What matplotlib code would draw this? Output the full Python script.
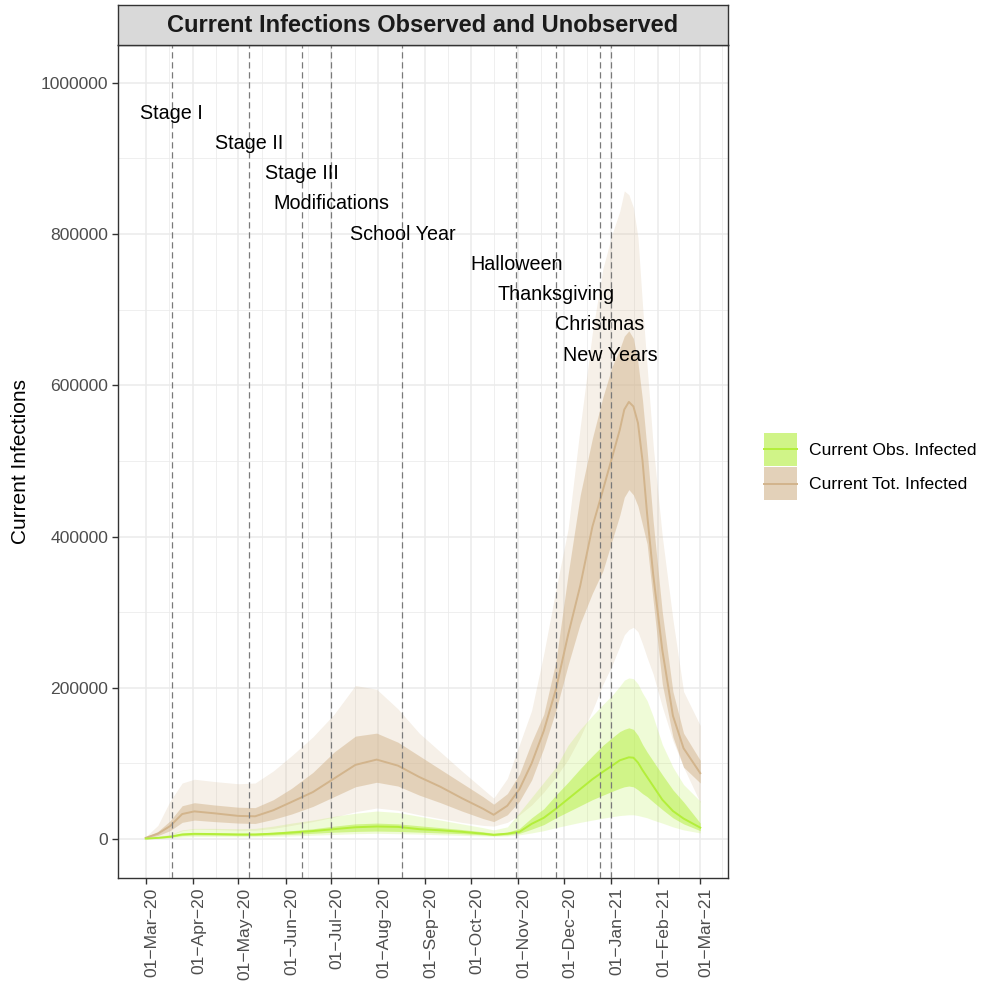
import matplotlib
matplotlib.use("Agg")
import matplotlib.pyplot as plt
import matplotlib.dates as mdates
import matplotlib.transforms as mtransforms
from matplotlib.patches import Patch
from matplotlib.lines import Line2D
from matplotlib.legend_handler import HandlerTuple, HandlerLine2D
from matplotlib.ticker import FuncFormatter
import pandas as pd

plt.rcParams['font.family'] = ['Liberation Sans', 'DejaVu Sans']

# ---- data -------------------------------------------------------------
dates = pd.to_datetime([
    "2020-03-01", "2020-03-09", "2020-03-17", "2020-03-25", "2020-04-02",
    "2020-04-15", "2020-05-01", "2020-05-12", "2020-05-24", "2020-06-05",
    "2020-06-19", "2020-07-03", "2020-07-17", "2020-07-31", "2020-08-14",
    "2020-08-28", "2020-09-11", "2020-09-25", "2020-10-09", "2020-10-16",
    "2020-10-25", "2020-11-02", "2020-11-10", "2020-11-18", "2020-11-26",
    "2020-12-04", "2020-12-12", "2020-12-20", "2020-12-27", "2021-01-02",
    "2021-01-07", "2021-01-10", "2021-01-13", "2021-01-16", "2021-01-19",
    "2021-01-22", "2021-01-25", "2021-01-29", "2021-02-04", "2021-02-11",
    "2021-02-18", "2021-03-01",
])

# Total (observed + unobserved) current infections: median, 50% and 95% bands
tot_mid = [1500, 7000, 17000, 33000, 36500, 34000, 30500, 30000, 38000, 49000,
           62000, 80000, 98000, 105000, 97000, 82000, 69000, 54000, 40000, 32000,
           44000, 66000, 100000, 143000, 198000, 270000, 335000, 413000, 462000, 505000,
           541000, 568000, 578000, 572000, 550000, 500000, 430000, 350000, 250000, 163000,
           120000, 87000]
tot_lo50 = [800, 4500, 11000, 22000, 25000, 23000, 21000, 20500, 26000, 33000,
            43000, 56000, 69000, 75000, 70000, 58000, 48000, 37000, 27000, 23000,
            32000, 50000, 78000, 120000, 170000, 230000, 285000, 325000, 355000, 395000,
            428000, 452000, 462000, 455000, 440000, 415000, 390000, 315000, 205000, 135000,
            95000, 74000]
tot_hi50 = [2500, 10000, 24000, 44000, 48000, 45000, 42000, 41500, 52000, 67000,
            88000, 115000, 136000, 140000, 128000, 110000, 92000, 74000, 56000, 46000,
            60000, 86000, 128000, 165000, 235000, 350000, 455000, 530000, 585000, 625000,
            648000, 665000, 672000, 662000, 630000, 580000, 515000, 420000, 300000, 195000,
            140000, 104000]
tot_lo95 = [300, 2000, 5000, 11000, 13000, 12500, 11500, 11500, 14000, 18000,
            23000, 29000, 36000, 41000, 38000, 32000, 27000, 22000, 18000, 17000,
            22000, 32000, 45000, 62000, 82000, 105000, 135000, 170000, 205000, 230000,
            255000, 270000, 277000, 280000, 274000, 258000, 240000, 218000, 175000, 130000,
            95000, 48000]
tot_hi95 = [3000, 18000, 50000, 74000, 79000, 76000, 73000, 74000, 90000, 110000,
            135000, 165000, 203000, 198000, 172000, 140000, 115000, 90000, 66000, 54000,
            80000, 125000, 170000, 245000, 330000, 410000, 545000, 670000, 755000, 800000,
            830000, 857000, 852000, 835000, 795000, 705000, 625000, 520000, 400000, 290000,
            195000, 150000]

# Observed current infections: median, 50% and 95% bands
obs_mid = [500, 1500, 3000, 6000, 6800, 6500, 6000, 6000, 7000, 8500,
           10500, 13000, 15500, 16500, 16000, 13000, 11500, 9500, 7000, 5500,
           7000, 9500, 20000, 28000, 40000, 53000, 66000, 79000, 89000, 97000,
           104000, 106000, 108000, 107500, 101000, 91000, 82000, 70000, 52000, 37000,
           27000, 15000]
obs_lo50 = [300, 1000, 2200, 4500, 5200, 5000, 4500, 4500, 5300, 6200,
            7500, 9000, 10000, 10500, 10000, 9000, 8000, 7000, 5500, 4500,
            5500, 7500, 13000, 19000, 28000, 36000, 44000, 52000, 58000, 63000,
            67000, 69000, 70000, 69000, 65000, 60000, 56000, 49000, 39000, 28000,
            20000, 11000]
obs_hi50 = [700, 2000, 4000, 7500, 8500, 8000, 7500, 7500, 9000, 11000,
            13500, 17000, 20000, 21000, 20000, 17500, 15000, 12500, 9500, 7500,
            9000, 14000, 28000, 40000, 58000, 75000, 93000, 110000, 124000, 134000,
            142000, 145000, 147000, 145000, 137000, 125000, 115000, 103000, 85000, 65000,
            49000, 21000]
obs_lo95 = [100, 500, 1200, 2500, 3200, 3200, 3000, 3000, 3500, 4000,
            5000, 6000, 7000, 7500, 7000, 6500, 5500, 4800, 4000, 3500,
            4000, 5500, 8000, 11000, 15000, 18500, 22000, 25000, 27500, 29500,
            31000, 31500, 32000, 32000, 31000, 29500, 28000, 25000, 21000, 16000,
            12000, 8000]
obs_hi95 = [1000, 3000, 6000, 12000, 14000, 14000, 13500, 14000, 17000, 21000,
            25000, 30000, 34000, 37000, 35000, 30000, 25000, 20000, 15000, 12000,
            16000, 35000, 55000, 75000, 95000, 124000, 145000, 163000, 178000, 190000,
            202000, 210000, 213000, 212000, 205000, 193000, 183000, 162000, 125000, 95000,
            72000, 50000]

# Policy / holiday events
event_names = ["Stage I", "Stage II", "Stage III", "Modifications", "School Year",
               "Halloween", "Thanksgiving", "Christmas", "New Years"]
event_dates = pd.to_datetime(["2020-03-18", "2020-05-08", "2020-06-12", "2020-07-01",
                              "2020-08-17", "2020-10-31", "2020-11-26", "2020-12-25",
                              "2021-01-01"])
event_label_y = [960000, 920000, 880000, 840000, 800000, 760000, 720000, 680000, 640000]

series_labels = ["Current Obs. Infected", "Current Tot. Infected"]
y_ticks = [0, 200000, 400000, 600000, 800000, 1000000]
y_minor = [100000, 300000, 500000, 700000, 900000]
tick_dates = pd.date_range("2020-03-01", "2021-03-01", freq="MS")

# ---- styling ----------------------------------------------------------
GREEN = "#B3EE3A"
TAN = "#D2B48C"
GRID = "#EBEBEB"
DARK = "#333333"


class CenteredLine(HandlerLine2D):
    """Legend line drawn through the vertical centre of the key box."""

    def create_artists(self, legend, orig_handle, xdescent, ydescent,
                       width, height, fontsize, trans):
        artists = super().create_artists(legend, orig_handle, xdescent, ydescent,
                                         width, height, fontsize, trans)
        for a in artists:
            a.set_ydata([height / 2 - ydescent] * len(a.get_xdata()))
        return artists


fig = plt.figure(figsize=(9.82, 9.85), dpi=100)
W, H = 982, 985
ax = fig.add_axes([118 / W, 1 - 878 / H, 610 / W, 833 / H])

# ribbons and median lines
ax.fill_between(dates, tot_lo95, tot_hi95, color=TAN, alpha=0.2, lw=0, zorder=2)
ax.fill_between(dates, tot_lo50, tot_hi50, color=TAN, alpha=0.5, lw=0, zorder=2)
ax.fill_between(dates, obs_lo95, obs_hi95, color=GREEN, alpha=0.2, lw=0, zorder=2)
ax.fill_between(dates, obs_lo50, obs_hi50, color=GREEN, alpha=0.5, lw=0, zorder=2)
ax.plot(dates, tot_mid, color=TAN, lw=1.4, zorder=3)
ax.plot(dates, obs_mid, color=GREEN, lw=1.4, zorder=3)

# event markers
for d, name, yv in zip(event_dates, event_names, event_label_y):
    ax.axvline(d, color="#7A7A7A", lw=0.9, ls=(0, (5, 3)), zorder=4)
    ax.text(d, yv, name, ha="center", va="center", fontsize=14.2,
            color="black", zorder=5)

# axes limits (5% expansion around the data)
x0 = mdates.date2num(dates[0])
x1 = mdates.date2num(dates[-1])
pad = 0.05 * (x1 - x0)
ax.set_xlim(x0 - pad, x1 + pad)
ax.set_ylim(-51600, 1050000)

# ticks and grid
t = mdates.date2num(tick_dates)
minor_x = list((t[:-1] + t[1:]) / 2) + [t[-1] + (t[-1] - t[-2]) / 2]
ax.set_xticks(t)
ax.set_xticks(minor_x, minor=True)
ax.xaxis.set_major_formatter(mdates.DateFormatter("%d\u2212%b\u2212%y"))
ax.set_yticks(y_ticks)
ax.set_yticks(y_minor, minor=True)
ax.yaxis.set_major_formatter(FuncFormatter(lambda v, p: f"{int(v)}"))
ax.set_axisbelow(True)
ax.grid(which="major", color=GRID, lw=1.1, zorder=0)
ax.grid(which="minor", color=GRID, lw=0.55, zorder=0)
ax.tick_params(which="minor", length=0)
ax.tick_params(which="major", length=4, width=1.0, color=DARK,
               labelcolor="#4D4D4D", labelsize=12.6, pad=3)
ax.tick_params(axis="x", labelrotation=90)
shift = mtransforms.ScaledTranslation(0.06, 0, fig.dpi_scale_trans)
for lbl in ax.get_xticklabels():
    lbl.set_transform(lbl.get_transform() + shift)
for spine in ax.spines.values():
    spine.set_color(DARK)
    spine.set_linewidth(1.0)

ax.set_ylabel("Current Infections", fontsize=15, color="black")
ax.yaxis.set_label_coords(-0.1443, 0.5)

# facet strip title
sax = fig.add_axes([118 / W, 1 - 45 / H, 610 / W, 40 / H])
sax.set_facecolor("#D9D9D9")
sax.set_xticks([])
sax.set_yticks([])
for spine in sax.spines.values():
    spine.set_color(DARK)
    spine.set_linewidth(1.0)
sax.text(0.5, 0.5, "Current Infections Observed and Unobserved", ha="center",
         va="center", fontsize=17, fontweight="bold", color="#1A1A1A",
         transform=sax.transAxes)

# legend
handles = [
    (Patch(fc=GREEN, alpha=0.2, lw=0), Patch(fc=GREEN, alpha=0.5, lw=0),
     Line2D([], [], color=GREEN, lw=1.4)),
    (Patch(fc=TAN, alpha=0.2, lw=0), Patch(fc=TAN, alpha=0.5, lw=0),
     Line2D([], [], color=TAN, lw=1.4)),
]
fig.legend(handles, series_labels,
           handler_map={tuple: HandlerTuple(ndivide=1, pad=0), Line2D: CenteredLine()},
           loc="center left", bbox_to_anchor=(764 / W, 1 - 466.5 / H),
           frameon=False, fontsize=12.6, handlelength=1.886, handleheight=2.525,
           handletextpad=0.686, labelspacing=0.06, borderpad=0, borderaxespad=0)

fig.savefig("out.png", dpi=100)
